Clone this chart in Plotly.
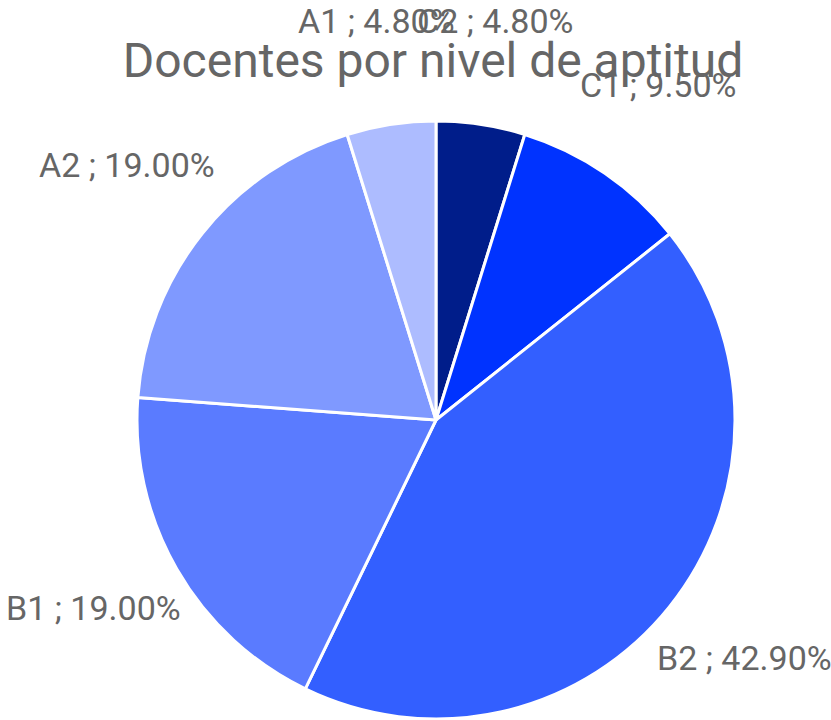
import math
import plotly.graph_objects as go

labels = ["C2", "C1", "B2", "B1", "A2", "A1"]
values = [4.8, 9.5, 42.9, 19.0, 19.0, 4.8]
colors = ["#001d8a", "#0033ff", "#335fff", "#5a7bff", "#7f99ff", "#adbcff"]
title = "Docentes por nivel de aptitud"

fig = go.Figure(go.Pie(
    labels=labels,
    values=values,
    sort=False,
    direction="clockwise",
    rotation=0,
    marker=dict(colors=colors, line=dict(color="white", width=3)),
    textinfo="none",
    showlegend=False,
    automargin=False,
    hoverinfo="label+percent",
))

# outside labels placed along each slice's mid-angle (Google-Charts style, no leaders)
total = sum(values)
cum = 0.0
label_r = 0.66  # in domain-width units, from the pie centre
for lab, v in zip(labels, values):
    mid = (cum + v / 2) / total * 2 * math.pi
    cum += v
    fig.add_annotation(
        x=0.5 + label_r * math.sin(mid),
        y=0.5 + label_r * math.cos(mid),
        xref="paper", yref="paper",
        text=f"{lab} ; {v / total * 100:.2f}%",
        showarrow=False,
        xanchor="center", yanchor="middle",
        yshift=9,
        font=dict(family="Roboto", size=34, color="#666666"),
    )

fig.update_layout(
    width=831, height=720,
    margin=dict(l=137, r=96, t=121, b=1),
    paper_bgcolor="white",
    plot_bgcolor="white",
    title=dict(text=title, x=433/831, xanchor="center", y=1-60/720, yanchor="middle",
               yref="container", xref="container",
               font=dict(family="Roboto", size=48, color="#666666")),
)

fig.write_html("out.html")
